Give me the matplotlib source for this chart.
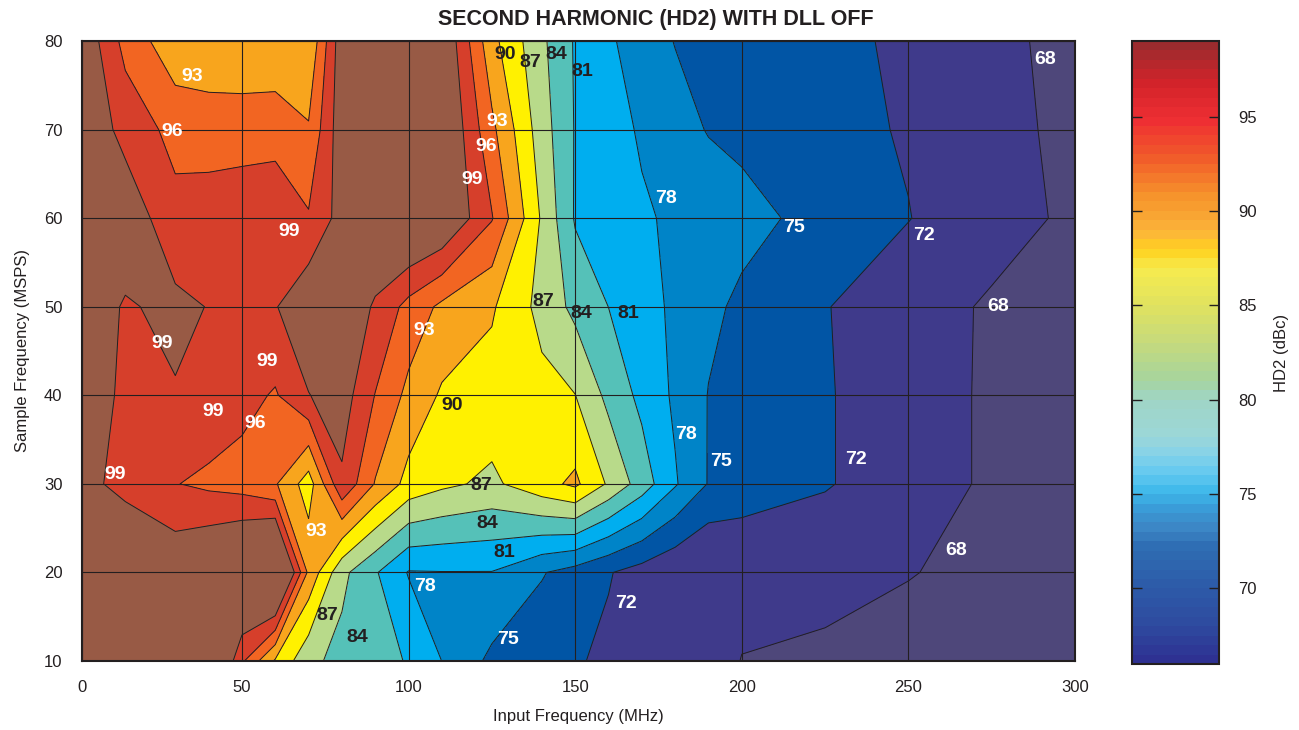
import numpy as np
import matplotlib.pyplot as plt
from matplotlib.colors import LinearSegmentedColormap, Normalize
from matplotlib.cm import ScalarMappable

plt.rcParams['font.family'] = ['Liberation Sans', 'DejaVu Sans']

# Input frequency (MHz) columns and sample frequency (MSPS) rows
fin = [2, 15, 30, 40, 50, 60, 70, 80, 90, 100, 110, 125, 140, 150, 160, 170, 180, 190, 200, 225, 250, 275, 300]
fs = [10, 20, 30, 40, 50, 60, 70, 80]

# HD2 (dBc), one list per sample frequency
hd2_10 = [105, 105, 105, 105.9, 96.5, 89.6, 84.8, 83.0, 82.0, 80.8, 77.98, 74.3, 73.1, 72.3, 71.4, 70.55, 69.7, 68.85, 67.95, 67.4, 66.5, 66.0, 65.5]
hd2_20 = [104, 105, 101.5, 103, 105, 108, 92.3, 84.8, 81.3, 77.8, 77.9, 77.9, 75.2, 73.8, 72.2, 70.8, 69.5, 68.4, 68.6, 69.0, 68.16, 67.0, 66.0]
hd2_30 = [100.5, 97.5, 96.1, 95.4, 94.8, 93.3, 88.5, 98.5, 92.8, 89.0, 87.6, 86.4, 89.0, 90.6, 86.6, 82.6, 78.3, 74.84, 74.1, 72.3, 69.9, 67.4, 64.9]
hd2_40 = [100.5, 98.5, 98.8, 98.0, 97.0, 95.7, 98.9, 100.5, 95.9, 92.2, 89.6, 88.8, 87.9, 87.05, 83.2, 80.2, 77.5, 74.9, 74.2, 72.3, 69.9, 67.4, 65.0]
hd2_50 = [101, 98.7, 99.7, 98.9, 98.0, 98.8, 101.5, 101.5, 98.6, 95.0, 92.35, 90.35, 86.05, 83.2, 80.98, 79.2, 77.43, 75.63, 74.44, 72.16, 69.9, 67.47, 65.5]
hd2_60 = [101.5, 101, 97.0, 97.5, 98.1, 98.7, 96.3, 100.2, 102, 104, 102.5, 96.2, 86.6, 80.7, 79.6, 78.4, 77.49, 76.7, 75.9, 74.0, 72.1, 69.7, 67.2]
hd2_70 = [101.5, 98.0, 95.0, 94.6, 94.5, 94.5, 93.3, 101.0, 102, 102, 102.9, 93.7, 85.4, 80.8, 79.2, 77.64, 76.07, 74.84, 74.34, 73.1, 71.69, 69.3, 66.96]
hd2_80 = [101.5, 95.0, 91.0, 90.8, 90.8, 91.0, 90.2, 101.0, 102, 102, 102.2, 90.9, 84.6, 80.7, 78.5, 76.4, 74.9, 74.4, 73.9, 73.2, 71.2, 69.0, 66.8]

hd2 = np.array([hd2_10, hd2_20, hd2_30, hd2_40, hd2_50, hd2_60, hd2_70, hd2_80])

levels = [60, 68, 72, 75, 78, 81, 84, 87, 90, 93, 96, 99, 115]
band_colors = ['#4e477a', '#3f3a8b', '#0155a5', '#0084c8', '#00aeef', '#55c1b8',
               '#b8da8a', '#fff100', '#f8a51d', '#f26522', '#d63f2b', '#985a45']

# contour labels
label_text = ['93', '96', '99', '99', '99', '99', '96', '99', '93', '87', '84',
              '90', '87', '84', '81', '93', '96', '99', '93', '87', '84', '81',
              '90', '87', '84', '81', '78', '75', '72', '78', '75', '72', '68',
              '68', '78', '75', '72', '68']
label_x = [35.1, 29.0, 64.1, 26.0, 57.5, 41.4, 54.1, 11.8, 72.3, 75.6, 84.7,
           129.1, 136.4, 144.3, 152.1, 126.7, 123.4, 119.2, 104.6, 140.3, 151.8, 166.0,
           113.1, 121.9, 123.7, 128.8, 104.9, 129.7, 165.1, 177.2, 215.6, 254.6, 290.9,
           277.0, 183.3, 193.8, 234.4, 264.3]
label_y = [76.0, 69.8, 58.5, 45.8, 43.8, 38.2, 36.8, 31.0, 24.6, 15.1, 12.6,
           78.5, 77.6, 78.5, 76.5, 70.9, 68.1, 64.4, 47.3, 50.6, 49.2, 49.2,
           38.9, 29.8, 25.5, 22.2, 18.4, 12.4, 16.5, 62.2, 58.9, 58.0, 77.9,
           50.0, 35.6, 32.5, 32.8, 22.5]

# colorbar gradient
cbar_values = [66, 68, 70, 72, 73, 74, 75, 76, 77, 78, 80, 81, 83, 85, 87, 88, 89, 90, 91, 93, 95, 97, 99]
cbar_colors = ['#2e3192', '#2e4ca0', '#2d5ca9', '#2e6cb2', '#3c85c4', '#3a98d5', '#3db8ea',
               '#63c9f0', '#85d2e9', '#9cd7d8', '#a0d5c5', '#a6d49e', '#c5da7d', '#e0e260',
               '#f6eb4e', '#ffd21f', '#fbb53a', '#f8a232', '#f6922b', '#f15a2a', '#ee2e33',
               '#d2232a', '#9b2b2e']

dark = '#231f20'

fig = plt.figure(figsize=(12.99, 7.30), dpi=100)
ax = fig.add_axes([82 / 1299, 69 / 730, 993 / 1299, 620 / 730])

ax.contourf(fin, fs, hd2, levels=levels, colors=band_colors)
ax.contour(fin, fs, hd2, levels=levels[1:-1], colors=dark, linewidths=0.7)

for t, x, y in zip(label_text, label_x, label_y):
    c = 'white' if int(t) >= 93 or int(t) <= 78 else dark
    ax.text(x, y, t, color=c, fontsize=14, fontweight='bold',
            ha='center', va='center', zorder=5)

ax.set_xlim(2, 300)
ax.set_ylim(10, 80)
ax.set_xticks([2, 50, 100, 150, 200, 250, 300])
ax.set_xticklabels(['0', '50', '100', '150', '200', '250', '300'])
ax.set_yticks([10, 20, 30, 40, 50, 60, 70, 80])
ax.tick_params(length=0, labelsize=12, colors=dark, pad=14)
ax.grid(True, color=dark, linewidth=0.8)
ax.set_axisbelow(False)
for s in ax.spines.values():
    s.set_linewidth(1.5)
    s.set_color(dark)

fig.text(656 / 1299, 1 - 19 / 730, 'SECOND HARMONIC (HD2) WITH DLL OFF',
         fontsize=15.5, fontweight='bold', color=dark, ha='center', va='center')
ax.set_xlabel('Input Frequency (MHz)', fontsize=12, color=dark, labelpad=10)
ax.set_ylabel('Sample Frequency (MSPS)', fontsize=12, color=dark, labelpad=10)

# colorbar
pos = [(v - cbar_values[0]) / (cbar_values[-1] - cbar_values[0]) for v in cbar_values]
cmap = LinearSegmentedColormap.from_list('hd2', list(zip(pos, cbar_colors)), N=66)
cax = fig.add_axes([1132 / 1299, 66 / 730, 87 / 1299, 623 / 730])
sm = ScalarMappable(norm=Normalize(66, 99), cmap=cmap)
cb = fig.colorbar(sm, cax=cax)
cb.set_ticks([70, 75, 80, 85, 90, 95])
cb.ax.tick_params(direction='in', left=True, right=True, length=7, width=1,
                  colors=dark, labelsize=12, pad=14)
cb.set_label('HD2 (dBc)', fontsize=12, color=dark, labelpad=12)
cb.outline.set_linewidth(1.5)
cb.outline.set_edgecolor(dark)

fig.savefig('out.png', dpi=100)
